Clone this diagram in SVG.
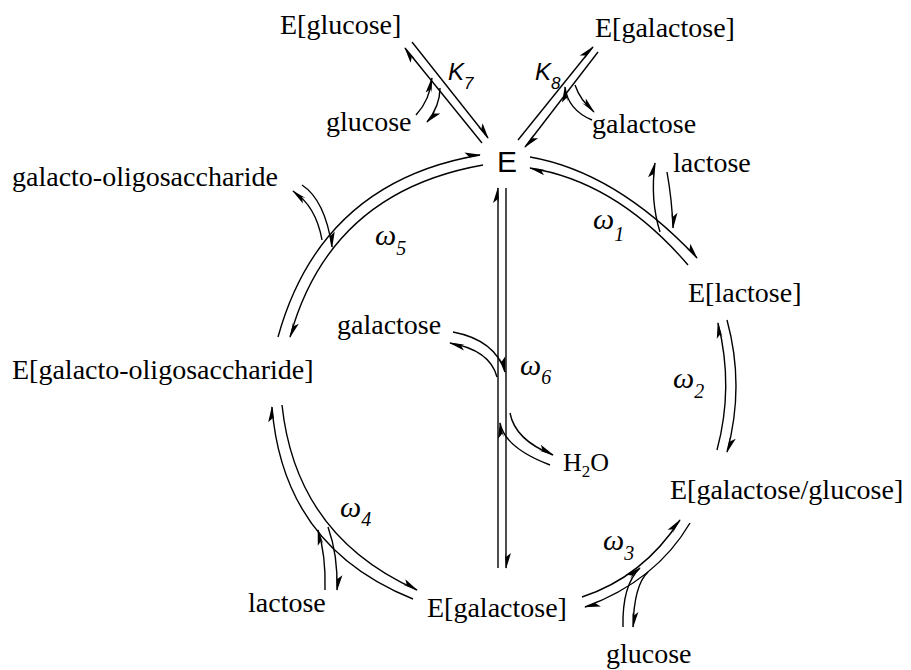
<svg xmlns="http://www.w3.org/2000/svg" width="911" height="670" viewBox="0 0 911 670">
<style>
.t{font-family:"Liberation Serif","Tinos","Times New Roman","DejaVu Serif",serif;font-size:28px;fill:#000}
.w{font-family:"Liberation Serif","Tinos","Times New Roman","DejaVu Serif",serif;font-style:italic;font-size:30px;fill:#000}
.ws{font-size:20px}
.k{font-family:"Liberation Sans",Arial,sans-serif;font-style:italic;font-size:24px;fill:#000}
.ks{font-size:17px}
.e{font-family:"Liberation Sans",Arial,sans-serif;font-size:30px;fill:#000}
.c path{fill:none;stroke:#000;stroke-width:1.4}
.c path.a{marker-end:url(#h)}
</style>
<defs>
<marker id="h" markerUnits="userSpaceOnUse" markerWidth="20" markerHeight="12" viewBox="-18 -7 20 12" refX="0" refY="0" orient="auto" overflow="visible">
<path d="M1,0 L-15,-5 L-11,0 L-15,1 Z" fill="#000" stroke="none"/>
</marker>
</defs>
<g class="c" id="connectors">
<path class="a" d="M482,143 L405,48"/>
<path class="a" d="M412,42 L488,138"/>
<path class="a" d="M416,115 Q430,100 432,78"/>
<path class="a" d="M440,88 Q440,106 427,122"/>
<path class="a" d="M518,140 L593,47"/>
<path class="a" d="M598,52 L525,147"/>
<path class="a" d="M592,120 Q568,110 565,87"/>
<path class="a" d="M575,85 Q580,100 594,112"/>
<path class="a" d="M530,157 Q616,172 697,258"/>
<path class="a" d="M688,265 Q617,182 530,168"/>
<path class="a" d="M660,232 Q650,200 655,163"/>
<path class="a" d="M667,172 Q672,200 673,228"/>
<path class="a" d="M717,450 Q734,387 718,323"/>
<path class="a" d="M727,320 Q745,386 727,452"/>
<path class="a" d="M582,597 Q643,577 680,520"/>
<path class="a" d="M690,523 Q656,581 585,607"/>
<path class="a" d="M623,627 Q622,585 640,568"/>
<path class="a" d="M648,572 Q634,585 633,627"/>
<path class="a" d="M413,599 Q283,547 272,407"/>
<path class="a" d="M282,405 Q296,536 417,590"/>
<path class="a" d="M328,527 Q338,555 337,590"/>
<path class="a" d="M325,590 Q326,555 318,530"/>
<path class="a" d="M278,337 Q321,182 480,155"/>
<path class="a" d="M483,165 Q330,192 290,337"/>
<path class="a" d="M322,240 Q316,206 293,191"/>
<path class="a" d="M302,185 Q325,200 332,247"/>
<path class="a" d="M498,568 L498,188"/>
<path class="a" d="M506,188 L506,568"/>
<path class="a" d="M453,332 Q495,340 505,372"/>
<path class="a" d="M497,377 Q490,350 450,343"/>
<path class="a" d="M510,413 Q515,440 553,455"/>
<path class="a" d="M550,465 Q505,448 500,423"/>
</g>
<g id="node-E"><text class="e" x="497" y="172">E</text></g>
<g id="node-E-glucose"><text class="t" x="280" y="34">E[glucose]</text></g>
<g id="node-E-galactose-top"><text class="t" x="595" y="37">E[galactose]</text></g>
<g id="node-glucose-top"><text class="t" x="326" y="131">glucose</text></g>
<g id="node-galactose-top"><text class="t" x="592" y="133">galactose</text></g>
<g id="label-K7"><text class="k" x="448" y="80">K<tspan class="ks" dy="9">7</tspan></text></g>
<g id="label-K8"><text class="k" x="535" y="80">K<tspan class="ks" dy="9">8</tspan></text></g>
<g id="node-gos"><text class="t" x="12" y="186">galacto-oligosaccharide</text></g>
<g id="node-lactose-top"><text class="t" x="673" y="172">lactose</text></g>
<g id="node-E-lactose"><text class="t" x="688" y="302">E[lactose]</text></g>
<g id="node-E-gos"><text class="t" x="12" y="379">E[galacto-oligosaccharide]</text></g>
<g id="node-galactose-mid"><text class="t" x="337" y="334">galactose</text></g>
<g id="node-H2O"><text class="t" x="563" y="471" style="font-size:26px">H<tspan dy="6" style="font-size:17px">2</tspan><tspan dy="-6">O</tspan></text></g>
<g id="node-E-galglc"><text class="t" x="670" y="499">E[galactose/glucose]</text></g>
<g id="node-E-galactose-bottom"><text class="t" x="427" y="617">E[galactose]</text></g>
<g id="node-glucose-bottom"><text class="t" x="606" y="663">glucose</text></g>
<g id="node-lactose-bottom"><text class="t" x="248" y="612">lactose</text></g>
<g id="labels-omega">
<text class="w" x="593" y="229">ω<tspan class="ws" dy="12">1</tspan></text>
<text class="w" x="673" y="388">ω<tspan class="ws" dy="10">2</tspan></text>
<text class="w" x="603" y="550">ω<tspan class="ws" dy="10">3</tspan></text>
<text class="w" x="340" y="517">ω<tspan class="ws" dy="9">4</tspan></text>
<text class="w" x="375" y="245">ω<tspan class="ws" dy="10">5</tspan></text>
<text class="w" x="520" y="375">ω<tspan class="ws" dy="9">6</tspan></text>
</g>
</svg>
